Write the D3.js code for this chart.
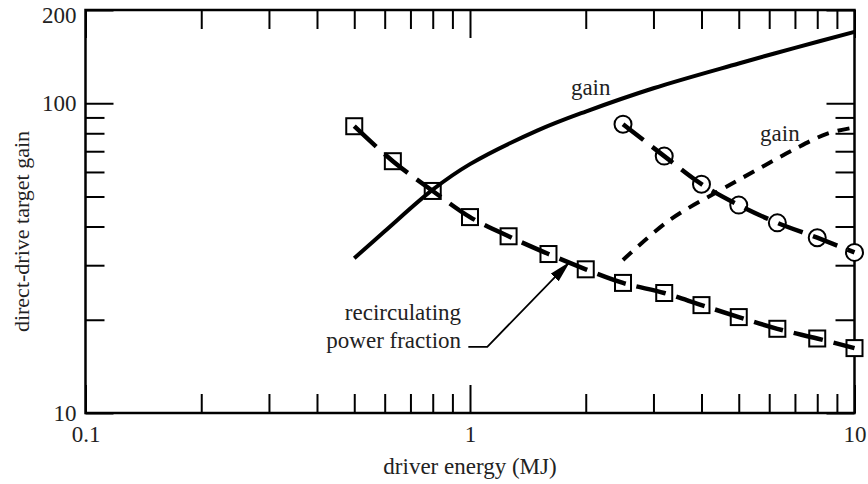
<!DOCTYPE html>
<html>
<head>
<meta charset="utf-8">
<script src="https://cdn.jsdelivr.net/npm/d3@7"></script>
<style>
  body { margin: 0; background: #fff; }
  text { font-family: "Liberation Serif", "Times New Roman", serif; fill: #222; }
</style>
</head>
<body>
<svg id="chart" width="868" height="484"></svg>
<script>
// solid gain curve
let gainE = [0.5, 0.6, 0.8, 1, 1.5, 2, 3, 5, 7, 10]
let gainG = [31.6, 38.6, 52.6, 63.6, 81.7, 94, 111.8, 134.4, 151, 170]

// dashed gain curve
let gain2E = [2.5, 3.3, 4.4, 5.5, 6.9, 8.5, 10]
let gain2G = [31.2, 41.9, 51.8, 60.4, 70.5, 79.8, 83.5]

// recirculating power fraction (squares)
let fracE = [0.5, 0.63, 0.8, 1, 1.26, 1.6, 2, 2.5, 3.2, 4, 5, 6.3, 8, 10]
let fracG = [84.3, 65.0, 52.1, 42.9, 37.2, 32.6, 29.1, 26.3, 24.4, 22.3, 20.4, 18.7, 17.4, 16.2]

// circles
let circE = [2.5, 3.2, 4, 5, 6.3, 8, 10]
let circG = [85.6, 67.5, 54.8, 46.9, 41.1, 36.8, 33.0]

let xMajor = [0.1, 1, 10]
let xMinor = [0.2, 0.3, 0.4, 0.5, 0.6, 0.7, 0.8, 0.9, 2, 3, 4, 5, 6, 7, 8, 9]
let yMajor = [10, 100, 200]
let yMinor = [20, 30, 40, 50, 60, 70, 80, 90]

let svg = d3.select("#chart")
let mLeft = 85.5, mRight = 854.5, mTop = 10, mBottom = 413

let x = d3.scaleLog().domain([0.1, 10]).range([mLeft, mRight])
let y = d3.scaleLog().domain([10, 200]).range([mBottom, mTop])

let fmt = d => d3.format("")(d)

// ticks on all four sides, pointing inward
function drawAxis(axis, tx, ty, values, size, labels) {
  let g = svg.append("g").attr("transform", `translate(${tx},${ty})`)
    .call(axis.tickValues(values).tickSize(size).tickFormat(labels ? fmt : ""))
  g.select(".domain").remove()
  g.selectAll("line").attr("stroke", "#000").attr("stroke-width", 2)
  g.selectAll("text").style("font-size", "23px").attr("fill", "#222")
  return g
}
drawAxis(d3.axisBottom(x).tickPadding(13), 0, mBottom, xMajor, -28, true)
drawAxis(d3.axisBottom(x), 0, mBottom, xMinor, -19, false)
drawAxis(d3.axisTop(x), 0, mTop, xMajor, -28, false)
drawAxis(d3.axisTop(x), 0, mTop, xMinor, -19, false)
let yAx = drawAxis(d3.axisLeft(y).tickPadding(9), mLeft, 0, yMajor, -28, true)
// top label sits a bit lower so it stays inside the page
yAx.selectAll("text").filter(d => d == 200).attr("dy", "0.55em")
drawAxis(d3.axisLeft(y), mLeft, 0, yMinor, -19, false)
drawAxis(d3.axisRight(y), mRight, 0, yMajor, -28, false)
drawAxis(d3.axisRight(y), mRight, 0, yMinor, -19, false)

svg.append("rect")
  .attr("x", mLeft).attr("y", mTop)
  .attr("width", mRight - mLeft).attr("height", mBottom - mTop)
  .attr("fill", "none").attr("stroke", "#000").attr("stroke-width", 2.5)

// markers first so the lines run across them
svg.append("g").selectAll("rect")
  .data(fracE.map((e, i) => [e, fracG[i]]))
  .join("rect")
  .attr("x", d => x(d[0]) - 8).attr("y", d => y(d[1]) - 8)
  .attr("width", 16).attr("height", 16)
  .attr("fill", "#fff").attr("stroke", "#000").attr("stroke-width", 2)

svg.append("g").selectAll("circle")
  .data(circE.map((e, i) => [e, circG[i]]))
  .join("circle")
  .attr("cx", d => x(d[0])).attr("cy", d => y(d[1])).attr("r", 8.5)
  .attr("fill", "#fff").attr("stroke", "#000").attr("stroke-width", 2)

let line = d3.line().x(d => x(d[0])).y(d => y(d[1])).curve(d3.curveCatmullRom)

svg.append("path")
  .attr("d", line(gainE.map((e, i) => [e, gainG[i]])))
  .attr("fill", "none").attr("stroke", "#000").attr("stroke-width", 4)

svg.append("path")
  .attr("d", line(gain2E.map((e, i) => [e, gain2G[i]])))
  .attr("fill", "none").attr("stroke", "#000").attr("stroke-width", 4)
  .attr("stroke-dasharray", "12,9")

svg.append("path")
  .attr("d", line(fracE.map((e, i) => [e, fracG[i]])))
  .attr("fill", "none").attr("stroke", "#000").attr("stroke-width", 4.5)
  .attr("stroke-dasharray", "30,11")

svg.append("path")
  .attr("d", line(circE.map((e, i) => [e, circG[i]])))
  .attr("fill", "none").attr("stroke", "#000").attr("stroke-width", 4.5)
  .attr("stroke-dasharray", "26,11")

// labels
svg.append("text").attr("x", x(1.83)).attr("y", y(106))
  .style("font-size", "23px").text("gain")
svg.append("text").attr("x", x(5.68)).attr("y", y(75.4))
  .style("font-size", "23px").text("gain")

svg.append("text").attr("x", x(0.948)).attr("y", y(19.95))
  .attr("text-anchor", "end").style("font-size", "23px").text("recirculating")
svg.append("text").attr("x", x(0.948)).attr("y", y(16.2))
  .attr("text-anchor", "end").style("font-size", "23px").text("power fraction")

// annotation arrow
svg.append("defs").append("marker")
  .attr("id", "arrow").attr("viewBox", "-22 -6 24 12")
  .attr("refX", 0).attr("refY", 0)
  .attr("markerWidth", 24).attr("markerHeight", 12)
  .attr("markerUnits", "userSpaceOnUse").attr("orient", "auto")
  .append("path").attr("d", "M0,0L-22,-5.5L-22,5.5Z").attr("fill", "#000")

let arrowPts = [[0.99, 16.36], [1.109, 16.36], [1.82, 30.8]]
svg.append("path")
  .attr("d", d3.line().x(d => x(d[0])).y(d => y(d[1]))(arrowPts))
  .attr("fill", "none").attr("stroke", "#000").attr("stroke-width", 1.8)
  .attr("marker-end", "url(#arrow)")

// axis titles
svg.append("text").attr("x", (mLeft + mRight) / 2).attr("y", 474)
  .attr("text-anchor", "middle").style("font-size", "23px").text("driver energy (MJ)")
svg.append("text")
  .attr("transform", `translate(29,${(mTop + mBottom) / 2 + 20}) rotate(-90)`)
  .attr("text-anchor", "middle").style("font-size", "22px").text("direct-drive target gain")
</script>
</body>
</html>
